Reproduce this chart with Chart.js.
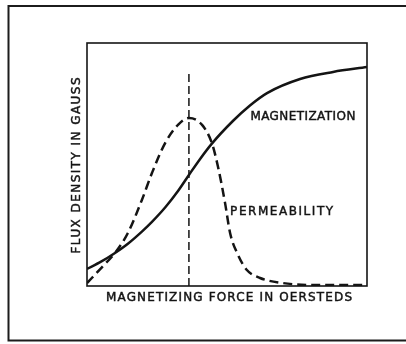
<!DOCTYPE html>
<html>
<head>
<meta charset="utf-8">
<script src="https://cdn.jsdelivr.net/npm/chart.js@4/dist/chart.umd.min.js"></script>
<style>
  html, body { margin: 0; padding: 0; background: #fff; }
  canvas { display: block; }
</style>
</head>
<body>
<canvas id="c" width="406" height="344"></canvas>
<script>
// Magnetization (B-H) curve, relative units 0..100
const magForce = [0, 5.0, 10.0, 14.6, 19.6, 23.2, 27.9, 32.5, 36.4, 40.4, 44.6, 52.1, 58.2, 64.3, 76.1, 87.9, 100];
const magnetization = [7.0, 10.0, 13.6, 17.4, 22.4, 26.4, 32.3, 39.1, 45.7, 52.3, 58.6, 67.9, 74.3, 79.4, 85.2, 88.1, 90.1];

// Permeability curve, relative units 0..100
const permForce = [0, 5.4, 10, 14.6, 19.6, 23.2, 27.9, 32.5, 36.4, 41.1, 44.6, 46.8, 49.3, 51.1, 53.6, 57.1, 61.8, 70, 82.1, 100];
const permeability = [1.2, 7.8, 13.6, 21.8, 35.4, 46.5, 58.8, 66.3, 69.1, 66.3, 58.8, 49.0, 34.2, 21.8, 13.6, 6.6, 3.3, 1.2, 0.4, 0.4];

// Vertical marker at the permeability peak
const peakForce = [36.4, 36.4];
const peakLevel = [0, 87.7];

// Text
const curveLabels = ['MAGNETIZATION', 'PERMEABILITY'];
const xTitle = 'MAGNETIZING FORCE IN OERSTEDS';
const yTitle = 'FLUX DENSITY IN GAUSS';

const INK = '#141414';
const FONT = '"DejaVu Sans", "Liberation Sans", Arial, sans-serif';

const pts = (xs, ys) => xs.map((x, i) => ({ x, y: ys[i] }));

// Draw lettering stretched by letter spacing to a given width
function spacedText(ctx, text, cx, cy, width, size) {
  ctx.save();
  ctx.font = size + 'px ' + FONT;
  ctx.textBaseline = 'middle';
  ctx.textAlign = 'left';
  ctx.strokeStyle = ctx.fillStyle;
  ctx.lineWidth = 0.45;
  const w = ctx.measureText(text).width;
  const sp = (width - w) / (text.length - 1);
  if ('letterSpacing' in ctx) {
    ctx.letterSpacing = sp + 'px';
    ctx.fillText(text, cx - width / 2, cy);
    ctx.strokeText(text, cx - width / 2, cy);
  } else {
    let x = cx - width / 2;
    for (const ch of text) {
      ctx.fillText(ch, x, cy);
      ctx.strokeText(ch, x, cy);
      x += ctx.measureText(ch).width + sp;
    }
  }
  ctx.restore();
}

const framePlugin = {
  id: 'frame',
  beforeDraw(chart) {
    const ctx = chart.ctx;
    ctx.save();
    ctx.fillStyle = '#fff';
    ctx.fillRect(0, 0, chart.width, chart.height);
    // page frame: left, top and bottom rules
    ctx.strokeStyle = '#1c1c1c';
    ctx.lineWidth = 2;
    ctx.beginPath();
    ctx.moveTo(chart.width, 6);
    ctx.lineTo(8.5, 6);
    ctx.lineTo(8.5, 340.5);
    ctx.lineTo(chart.width, 340.5);
    ctx.stroke();
    ctx.restore();
  },
  afterDraw(chart) {
    const ctx = chart.ctx;
    const a = chart.chartArea;
    const xs = chart.scales.x, ys = chart.scales.y;
    ctx.save();
    // plot box
    ctx.strokeStyle = INK;
    ctx.lineWidth = 1.6;
    ctx.strokeRect(a.left, a.top, a.right - a.left, a.bottom - a.top);
    ctx.fillStyle = INK;
    // curve labels
    spacedText(ctx, curveLabels[0], xs.getPixelForValue(77.1), ys.getPixelForValue(69.5), 105, 12);
    spacedText(ctx, curveLabels[1], xs.getPixelForValue(69.5), ys.getPixelForValue(30.5), 103, 12);
    // axis titles
    spacedText(ctx, xTitle, (a.left + a.right) / 2 + 2, a.bottom + 12, 246, 12);
    ctx.save();
    ctx.translate(a.left - 10, (a.top + a.bottom) / 2 + 1);
    ctx.rotate(-Math.PI / 2);
    spacedText(ctx, yTitle, 0, 0, 176, 12);
    ctx.restore();
    ctx.restore();
  }
};

new Chart(document.getElementById('c'), {
  type: 'line',
  data: {
    datasets: [
      {
        label: 'Magnetization',
        data: pts(magForce, magnetization),
        borderColor: INK,
        borderWidth: 2.5,
        pointRadius: 0,
        cubicInterpolationMode: 'monotone',
        fill: false
      },
      {
        label: 'Permeability',
        data: pts(permForce, permeability),
        borderColor: INK,
        borderWidth: 2.5,
        borderDash: [9, 5],
        pointRadius: 0,
        cubicInterpolationMode: 'monotone',
        fill: false
      },
      {
        label: 'Peak',
        data: pts(peakForce, peakLevel),
        borderColor: INK,
        borderWidth: 1.5,
        borderDash: [8, 4],
        pointRadius: 0,
        fill: false
      }
    ]
  },
  options: {
    responsive: false,
    animation: false,
    layout: { padding: { left: 87, right: 39, top: 43, bottom: 58 } },
    plugins: { legend: { display: false }, tooltip: { enabled: false } },
    scales: {
      x: { type: 'linear', min: 0, max: 100, display: false },
      y: { type: 'linear', min: 0, max: 100, display: false }
    }
  },
  plugins: [framePlugin]
});
</script>
</body>
</html>
